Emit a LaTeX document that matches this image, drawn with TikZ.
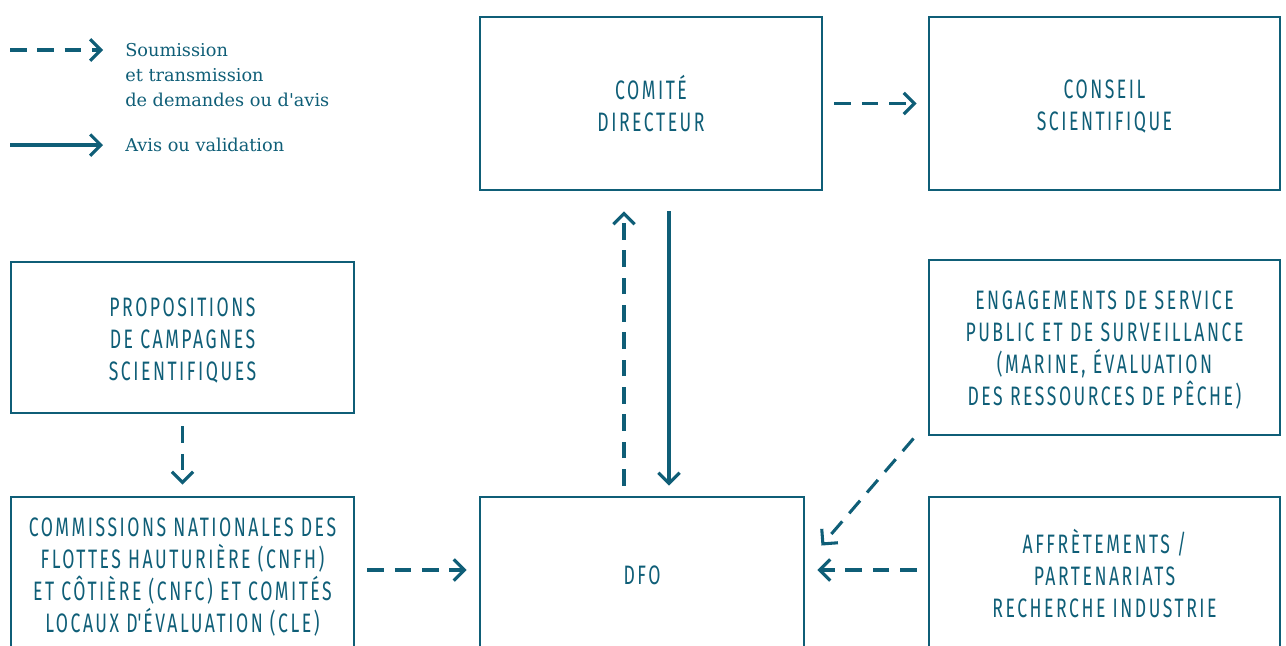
\documentclass[tikz,border=0pt]{standalone}
\usepackage{fontspec}
\setmainfont{DejaVu Serif}
\newfontfamily\boxfont[FakeStretch=0.66,LetterSpace=9.5]{Fira Sans}
\usetikzlibrary{arrows.meta,calc}
\definecolor{dfoTeal}{HTML}{0F5E77}
\newcommand{\capstrut}{\vphantom{É}}

\begin{document}
\begin{tikzpicture}[
  x=0.75pt, y=-0.75pt,
  box/.style={draw=dfoTeal, line width=2.2pt, align=center, text=dfoTeal,
              inner sep=0pt, font=\boxfont\fontsize{20}{24}\selectfont},
  legendtext/.style={text=dfoTeal, align=left, inner sep=0pt,
                     font=\fontsize{13.3}{18.75}\selectfont},
  arr/.style={-{Straight Barb[length=8pt,width=16pt,line width=2.3pt]},
              line width=2.3pt, draw=dfoTeal},
  dasharr/.style={arr, dash pattern=on 12.5pt off 8pt}
]
\clip (0,0) rectangle (1286,646);

% legend
\coordinate (legA) at (10,50);
\coordinate (legB) at (103,50);
\coordinate (legC) at (10,145);
\coordinate (legD) at (103,145);
\draw[dasharr] (legA) -- (legB);
\draw[arr] (legC) -- (legD);
\node[legendtext, anchor=north west] (legsub) at (125,43)
  {Soumission\\et transmission\\de demandes ou d\textquotesingle avis};
\node[legendtext, anchor=west] (legval) at (125,145) {Avis ou validation};

% boxes
\node[box, minimum width=256.5pt, minimum height=129.75pt] (comite)
  at (651,103.5) {COMITÉ\\DIRECTEUR};
\node[box, minimum width=263.25pt, minimum height=129.75pt] (conseil)
  at (1104.5,103.5) {\capstrut CONSEIL\\SCIENTIFIQUE};
\node[box, minimum width=257.25pt, minimum height=113.25pt] (props)
  at (182.5,337.5) {\capstrut PROPOSITIONS\\DE CAMPAGNES\\SCIENTIFIQUES};
\node[box, minimum width=257.25pt, minimum height=115.5pt] (commiss)
  at (182.5,574) {\capstrut COMMISSIONS NATIONALES DES\\FLOTTES HAUTURIÈRE (CNFH)\\
  ET CÔTIÈRE (CNFC) ET COMITÉS\\LOCAUX D\textquotesingle ÉVALUATION (CLE)};
\node[box, minimum width=243pt, minimum height=117pt] (dfo)
  at (642,575) {DFO};
\node[box, minimum width=263.25pt, minimum height=131.25pt] (engage)
  at (1104.5,347.5) {\capstrut ENGAGEMENTS DE SERVICE\\PUBLIC ET DE SURVEILLANCE\\
  (MARINE, ÉVALUATION\\DES RESSOURCES DE PÊCHE)};
\node[box, minimum width=263.25pt, minimum height=115.5pt] (affret)
  at (1104.5,574) {AFFRÈTEMENTS /\\PARTENARIATS\\RECHERCHE INDUSTRIE};

% connectors
\draw[dasharr] ($(comite.east)+(11,0)$) -- ($(conseil.west)+(-11,0)$);
\draw[dasharr] ($(dfo.north)+(-18,-10)$) -- ($(comite.south)+(-27,20)$);
\draw[arr] ($(comite.south)+(18,20)$) -- ($(dfo.north)+(27,-10)$);
\draw[dasharr] ($(props.south)+(0,12)$) -- ($(commiss.north)+(0,-11)$);
\draw[dasharr] ($(commiss.east)+(12,-4)$) -- ($(dfo.west)+(-12,-5)$);
\draw[dasharr] ($(engage.south west)+(-14,2)$) -- ($(dfo.north east)+(16,50)$);
\draw[dasharr] ($(affret.west)+(-11,-4)$) -- ($(dfo.east)+(12,-5)$);
\end{tikzpicture}
\end{document}
